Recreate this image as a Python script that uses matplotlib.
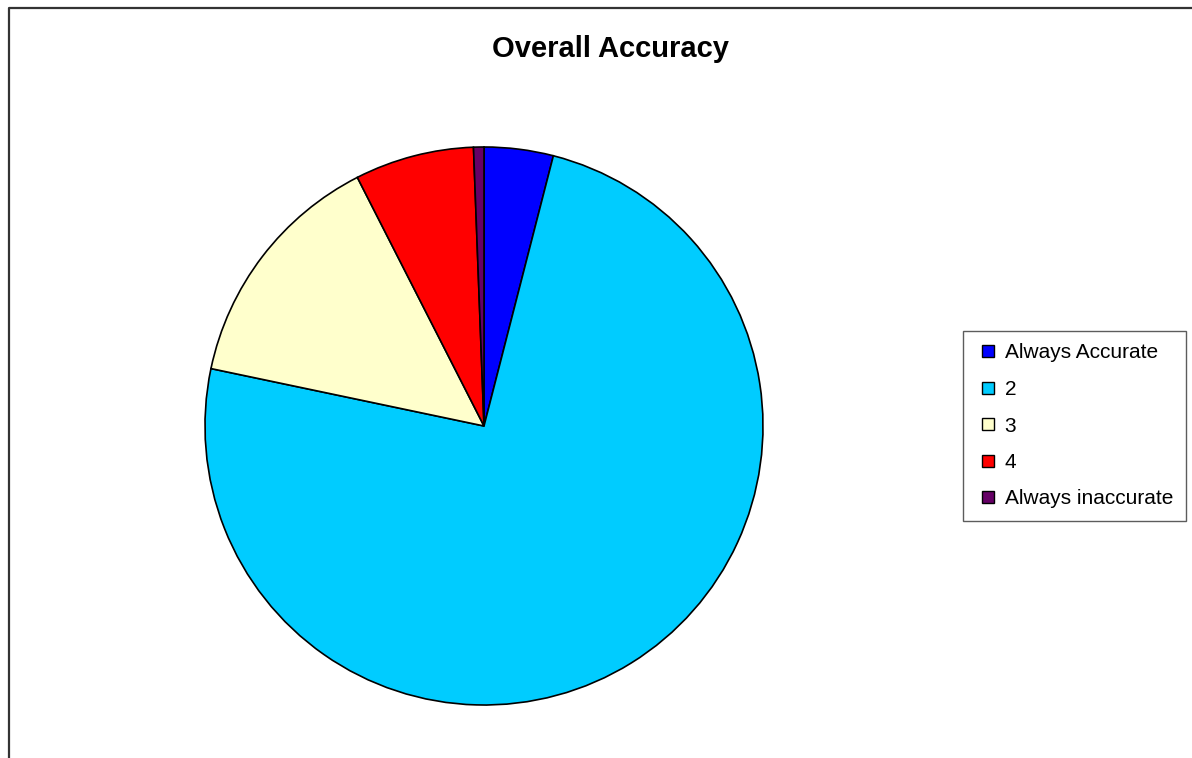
import matplotlib.pyplot as plt
from matplotlib.lines import Line2D

plt.rcParams['font.family'] = ['Liberation Sans', 'DejaVu Sans']

# Data
labels = ["Always Accurate", "2", "3", "4", "Always inaccurate"]
values = [4.0, 74.3, 14.2, 6.9, 0.6]
colors = ["#0000FF", "#00CCFF", "#FFFFCC", "#FF0000", "#660066"]

W, H = 1192, 758
fig = plt.figure(figsize=(W / 100, H / 100), dpi=100)
ax = fig.add_axes([0, 0, 1, 1])
ax.set_aspect('equal')
ax.axis('off')

wedges, _ = ax.pie(values, colors=colors, startangle=90, counterclock=False,
                   center=(484, H - 426), radius=279,
                   wedgeprops=dict(edgecolor='black', linewidth=1.2))
ax.set_xlim(0, W)
ax.set_ylim(0, H)

# Title
fig.text(610 / W, 1 - 57 / H, "Overall Accuracy", ha='center', va='baseline',
         fontsize=21, fontweight='bold')

# Legend with small square keys
handles = [Line2D([], [], linestyle='none', marker='s', markersize=9,
                  markerfacecolor=c, markeredgecolor='black', markeredgewidth=1.0)
           for c in colors]
leg = ax.legend(handles, labels, loc='upper left',
                bbox_to_anchor=(963 / W, 1 - 331 / H), bbox_transform=fig.transFigure,
                fontsize=15, frameon=True, fancybox=False, borderaxespad=0,
                handlelength=1.18, handletextpad=0.22,
                labelspacing=0.84, borderpad=0.6)
leg.get_frame().set_edgecolor('#333333')
leg.get_frame().set_linewidth(1.0)

# Outer chart frame (left and top edges visible)
frame = Line2D([9 / W, 9 / W, 1.0], [0.0, 1 - 8 / H, 1 - 8 / H],
               transform=fig.transFigure, color='#333333', linewidth=1.6)
fig.add_artist(frame)

fig.savefig("out.png", dpi=100)
